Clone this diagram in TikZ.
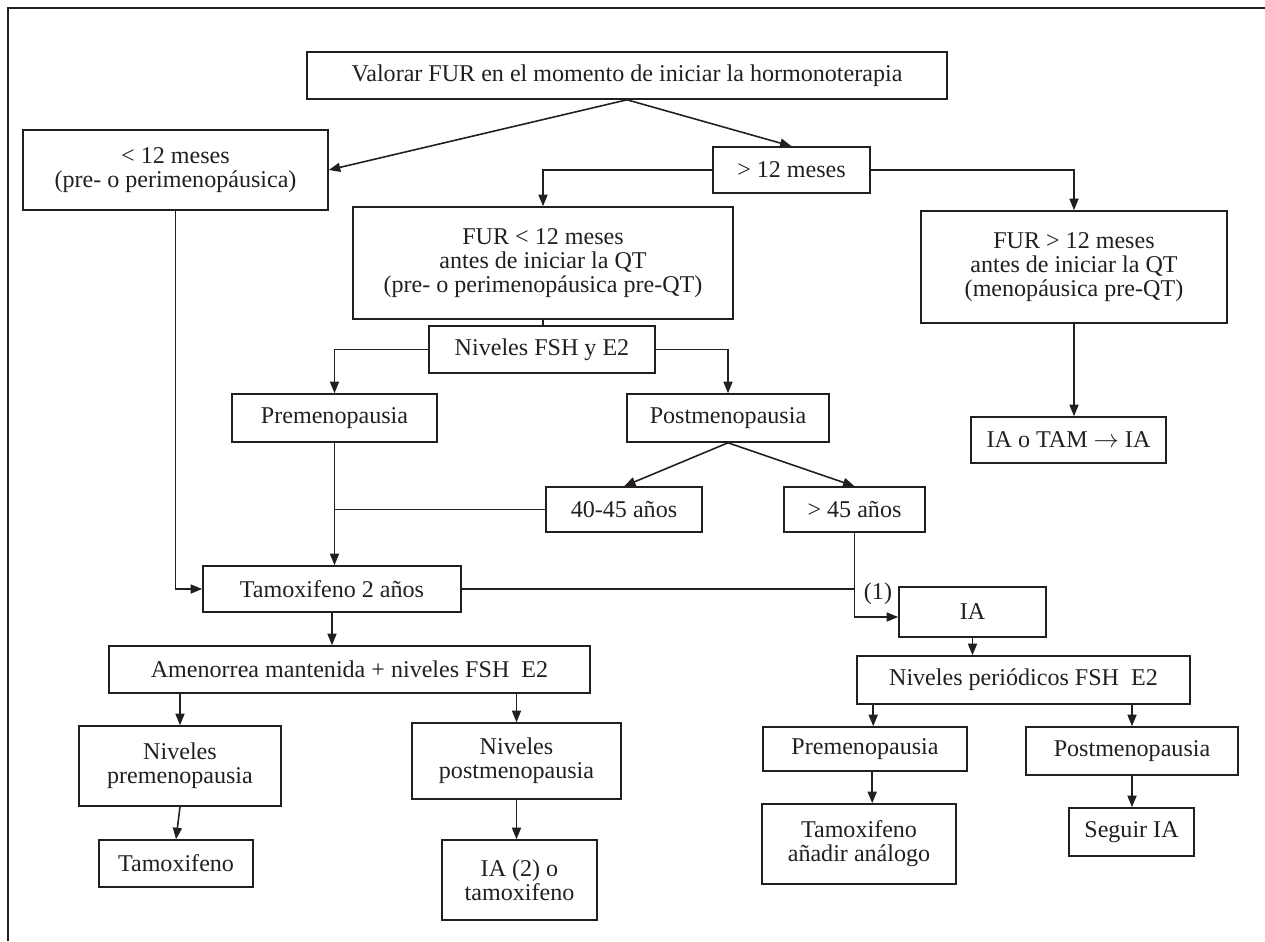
\documentclass[tikz,border=0pt]{standalone}
\usepackage{fontspec}
\setmainfont{Liberation Serif}
\usetikzlibrary{arrows.meta,calc}
\newlength\px
\setlength\px{0.02cm}
\definecolor{ink}{HTML}{231F20}
\begin{document}
\begin{tikzpicture}[x=0.02cm,y=-0.02cm,
  every node/.style={text=ink},
  box/.style={draw=ink,line width=0.9pt,inner sep=0pt,align=center,
    font=\fontsize{13.7}{13.7}\selectfont},
  link/.style={draw=ink,line width=0.9pt},
  arr/.style={link,-{Triangle[length=2.3mm,width=1.8mm]}}]
\useasboundingbox (0,0) rectangle (1265,941);
% frame edges
\draw[link] (8,941) -- (8,8) -- (1265,8);

% boxes
\node[box,minimum width=640\px,minimum height=47\px] (top) at (627,75.5) {Valorar FUR en el momento de iniciar la hormonoterapia};
\node[box,minimum width=305\px,minimum height=80\px] (lt12) at (175.5,170) {< 12 meses\\(pre- o perimenopáusica)};
\node[box,minimum width=157\px,minimum height=46\px] (gt12) at (791.5,170) {> 12 meses};
\node[box,minimum width=380\px,minimum height=112\px] (furlt) at (543,263) {FUR < 12 meses\\antes de iniciar la QT\\(pre- o perimenopáusica pre-QT)};
\node[box,minimum width=306\px,minimum height=112\px] (furgt) at (1074,267) {FUR > 12 meses\\antes de iniciar la QT\\(menopáusica pre-QT)};
\node[box,minimum width=195\px,minimum height=46\px] (iatam) at (1068.5,440) {IA o TAM $\rightarrow$ IA};
\node[box,minimum width=226\px,minimum height=47\px] (nivfsh) at (542,349.5) {Niveles FSH y E2};
\node[box,minimum width=205\px,minimum height=48\px] (pre1) at (334.5,418) {Premenopausia};
\node[box,minimum width=202\px,minimum height=48\px] (post1) at (728,418) {Postmenopausia};
\node[box,minimum width=156\px,minimum height=45\px] (a4045) at (624,509.5) {40-45 años};
\node[box,minimum width=141\px,minimum height=45\px] (g45) at (854.5,509.5) {> 45 años};
\node[box,minimum width=258\px,minimum height=46\px] (tam2) at (332,589) {Tamoxifeno 2 años};
\node[box,minimum width=147\px,minimum height=50\px] (ia) at (972.5,612) {IA};
\node[box,minimum width=333\px,minimum height=48\px] (nivper) at (1023.5,680) {Niveles periódicos FSH\enspace E2};
\node[box,minimum width=481\px,minimum height=47\px] (amen) at (349.5,669.5) {Amenorrea mantenida + niveles FSH\enspace E2};
\node[box,minimum width=202\px,minimum height=80\px] (nivpre) at (180,766) {Niveles\\premenopausia};
\node[box,minimum width=154\px,minimum height=47\px] (tamo) at (176,863.5) {Tamoxifeno};
\node[box,minimum width=209\px,minimum height=76\px] (nivpost) at (516.5,761) {Niveles\\postmenopausia};
\node[box,minimum width=155\px,minimum height=80\px] (ia2) at (519.5,880) {IA (2) o\\tamoxifeno};
\node[box,minimum width=204\px,minimum height=44\px] (pre2) at (865,749) {Premenopausia};
\node[box,minimum width=212\px,minimum height=48\px] (post2) at (1132,751) {Postmenopausia};
\node[box,minimum width=194\px,minimum height=80\px] (tamana) at (859,844) {Tamoxifeno\\añadir análogo};
\node[box,minimum width=125\px,minimum height=48\px] (seguir) at (1131.5,832) {Seguir IA};
\node[font=\fontsize{13.7}{13.7}\selectfont,inner sep=0pt] (lbl1) at (878,594) {(1)};

% connectors
\draw[arr] (top.south) -- (lt12.east);
\draw[arr] (top.south) -- (gt12.north);
\draw[arr] (gt12.west) -| (furlt.north);
\draw[arr] (gt12.east) -| (furgt.north);
\draw[arr] (furgt.south) -- (furgt.south |- iatam.north);
\draw[link] (furlt.south) -- (furlt.south |- nivfsh.north);
\draw[arr] (nivfsh.west) -| (pre1.north);
\draw[arr] (nivfsh.east) -| (post1.north);
\draw[arr] (post1.south) -- (a4045.north);
\draw[arr] (post1.south) -- (g45.north);
\draw[arr] (pre1.south) -- (pre1.south |- tam2.north);
\draw[link] (a4045.west) -- (pre1.south |- a4045.west);
\draw[arr] (lt12.south) |- (tam2.west);
\draw[link] (tam2.east) -- (g45.south |- tam2.east);
\draw[arr] (g45.south) |- ([yshift=-5\px]ia.west);
\draw[arr] (ia.south) -- (ia.south |- nivper.north);
\draw[arr] ([xshift=17\px]nivper.south west) -- ([xshift=17\px]nivper.south west |- pre2.north);
\draw[arr] (post2.north |- nivper.south) -- (post2.north);
\draw[arr] ([xshift=110\px]pre2.south west) -- ([xshift=110\px]pre2.south west |- tamana.north);
\draw[arr] (post2.south) -- (post2.south |- seguir.north);
\draw[arr] (tam2.south) -- (tam2.south |- amen.north);
\draw[arr] (nivpre.north |- amen.south) -- (nivpre.north);
\draw[arr] (nivpost.north |- amen.south) -- (nivpost.north);
\draw[arr] (nivpre.south) -- (tamo.north);
\draw[arr] (nivpost.south) -- (nivpost.south |- ia2.north);
\end{tikzpicture}
\end{document}
